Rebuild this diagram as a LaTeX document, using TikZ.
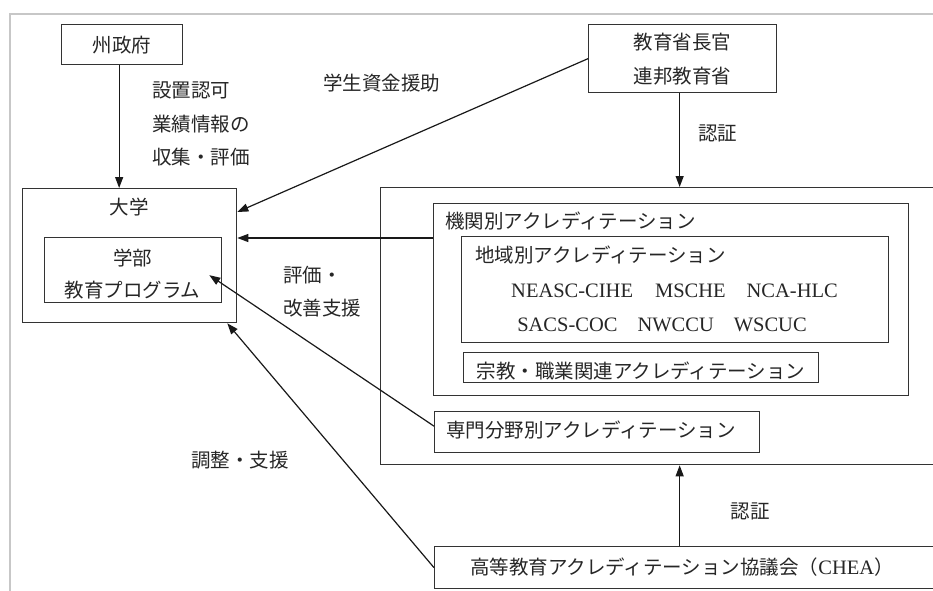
\documentclass[tikz,border=0pt]{standalone}
\usepackage{fontspec}
\setmainfont{Liberation Serif}
\newfontfamily\jp{Noto Sans CJK JP}
\usetikzlibrary{arrows.meta,calc}
\begin{document}
\begin{tikzpicture}[x=1pt,y=-1pt,
  box/.style={draw=black!80, line width=1.3pt, inner sep=0pt, anchor=north west, align=center,
    text=black!85, font=\jp\fontsize{19.5}{34}\selectfont},
  lbl/.style={inner sep=0pt, text=black!85, font=\jp\fontsize{19.5}{34}\selectfont},
  lat/.style={inner sep=0pt, text=black!85, font=\fontsize{20.5}{24}\selectfont},
  arr/.style={draw=black!90, line width=1.2pt, -{Triangle[length=11pt,width=8pt]}},
]
\useasboundingbox (0,0) rectangle (933,590);
\clip (0,0) rectangle (933,590);
\fill[white] (0,0) rectangle (933,590);
% light frame
\draw[black!22, line width=1.6pt] (10,595) -- (10,14) -- (940,14);

% boxes
\node[box, minimum width=121pt, minimum height=40pt] (gov) at (61,24) {州政府};
\node[box, minimum width=188pt, minimum height=68pt] (min) at (588,24) {教育省長官\\連邦教育省};
\node[box, minimum width=214pt, minimum height=134pt] (univ) at (22,188) {};
\node[box, minimum width=177pt, minimum height=65pt] (dept) at (44,237) {};
\node[box, minimum width=580pt, minimum height=277pt] (big) at (380,187) {};
\node[box, minimum width=475pt, minimum height=192pt] (inst) at (433,203) {};
\node[box, minimum width=427pt, minimum height=106pt] (reg) at (461,236) {};
\node[box, minimum width=355pt, minimum height=30pt] (rel) at (463,352) {};
\node[box, minimum width=325pt, minimum height=41pt] (spec) at (434,411) {};
\node[box, minimum width=540pt, minimum height=42pt] (chea) at (434,546) {};

% texts in boxes
\node[lbl] (tuniv) at (129,207) {大学};
\node[lbl] (tdept1) at (132.5,258) {学部};
\node[lbl] (tdept2) at (132.5,290) {教育プログラム};
\node[lbl, anchor=west] (tinst) at (445,221) {機関別アクレディテーション};
\node[lbl, anchor=west] (treg) at (475,255) {地域別アクレディテーション};
\node[lat, anchor=base] (tla1) at (674.5,297) {NEASC-CIHE\hspace{22pt}MSCHE\hspace{21pt}NCA-HLC};
\node[lat, anchor=base] (tla2) at (662,331) {SACS-COC\hspace{20pt}NWCCU\hspace{20pt}WSCUC};
\node[lbl] (trel) at (641,371) {宗教・職業関連アクレディテーション};
\node[lbl, anchor=west] (tspec) at (446,430) {専門分野別アクレディテーション};
\node[lbl, anchor=west] (tchea) at (470,567) {高等教育アクレディテーション協議会（{\fontspec{Liberation Serif}\fontsize{20.5}{24}\selectfont CHEA}）};

% connector labels
\node[lbl, anchor=west] (a1) at (152,90) {設置認可};
\node[lbl, anchor=west] (a2) at (152,124) {業績情報の};
\node[lbl, anchor=west] (a3) at (152,157) {収集・評価};
\node[lbl] (b1) at (381.5,83) {学生資金援助};
\node[lbl] (c1) at (717.5,133) {認証};
\node[lbl, anchor=west] (d1) at (283,275) {評価・};
\node[lbl, anchor=west] (d2) at (283,308) {改善支援};
\node[lbl] (e1) at (240,460) {調整・支援};
\node[lbl] (f1) at (750,511) {認証};

% connectors
\draw[arr] ([xshift=-3pt]gov.south) -- ([xshift=-3pt]gov.south |- univ.north);
\draw[arr] ([xshift=-3pt]min.south) -- ([xshift=-3pt]min.south |- big.north);
\draw[arr] ([xshift=-3pt]min.south |- chea.north) -- ([xshift=-3pt]min.south |- big.south);
\draw[arr] (min.west) -- ([yshift=-24pt]univ.north east);
\draw[arr] ([yshift=-35pt]inst.north west) -- ([yshift=-35pt]inst.north west -| univ.east);
\draw[arr] ([yshift=6pt]spec.west) -- ([xshift=-13pt,yshift=-5pt]dept.east);
\draw[arr] (chea.west) -- ([xshift=-10pt]univ.south east);
\end{tikzpicture}
\end{document}
